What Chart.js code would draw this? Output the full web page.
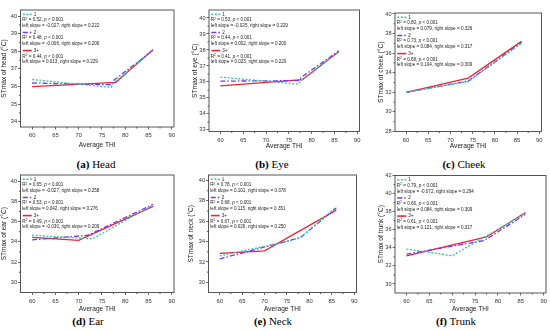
<!DOCTYPE html>
<html>
<head>
<meta charset="utf-8">
<script src="https://cdn.jsdelivr.net/npm/chart.js@4.4.1/dist/chart.umd.min.js"></script>
<style>
body { margin: 0; background: #fff; width: 550px; height: 331px; position: relative; overflow: hidden; }
canvas { position: absolute; }
.cap { position: absolute; width: 140px; margin-left: -70px; text-align: center; font: 11px "Liberation Serif", serif; color: #000; line-height: 12px; }
</style>
</head>
<body>
<div id="root"></div>
<script>
// shared values
const groups = ['1', '2', '3+'];
const thiTicks = [60, 65, 70, 75, 80, 85, 90];

// (a) head
const headG1 = [[60, 36.4], [77, 35.95], [77.5, 36.2], [86, 38.05]];
const headG2 = [[60, 36.2], [77, 36.1], [77.5, 36.35], [86, 38.05]];
const headG3 = [[60, 36.0], [78, 36.24], [86, 38.1]];
const headTicks = [34, 35, 36, 37, 38, 39, 40];
const headStats = [['0.52', '-0.027', '0.222'], ['0.48', '-0.006', '0.206'], ['0.44', '0.013', '0.229']];

// (b) eye
const eyeG1 = [[60, 36.3], [77, 35.87], [78, 36.15], [86, 37.9]];
const eyeG2 = [[60, 36.05], [77, 36.08], [77.8, 36.3], [86, 37.95]];
const eyeG3 = [[60, 35.75], [78, 36.15], [86, 37.9]];
const eyeTicks = [33, 34, 35, 36, 37, 38, 39, 40];
const eyeStats = [['0.53', '-0.025', '0.229'], ['0.44', '0.002', '0.200'], ['0.41', '0.023', '0.220']];

// (c) cheek
const cheekG1 = [[60, 32.0], [74, 33.1], [86, 37.0]];
const cheekG2 = [[60, 32.0], [74, 33.15], [86, 37.1]];
const cheekG3 = [[60, 32.0], [74, 33.45], [86, 37.2]];
const cheekTicks = [28, 30, 32, 34, 36, 38, 40];
const cheekStats = [['0.80', '0.079', '0.326'], ['0.73', '0.084', '0.317'], ['0.68', '0.104', '0.309']];

// (d) ear
const earG1 = [[60, 34.65], [73, 34.3], [86, 37.65]];
const earG2 = [[60, 34.2], [72, 34.65], [86, 37.7]];
const earG3 = [[60, 34.45], [70, 34.15], [86, 37.5]];
const earTicks = [30, 32, 34, 36, 38, 40];
const earStats = [['0.65', '-0.027', '0.258'], ['0.53', '0.042', '0.276'], ['0.49', '-0.030', '0.209']];

// (e) neck
const neckG1 = [[60, 32.6], [75, 34.0], [78, 34.4], [86, 37.4]];
const neckG2 = [[60, 32.3], [78, 34.4], [86, 37.3]];
const neckG3 = [[60, 32.85], [70, 33.1], [86, 37.1]];
const neckTicks = [30, 32, 34, 36, 38, 40];
const neckStats = [['0.78', '0.101', '0.378'], ['0.68', '0.115', '0.351'], ['0.67', '0.026', '0.250']];

// (f) trunk
const trunkG1 = [[60, 33.85], [70, 33.13], [86, 37.8]];
const trunkG2 = [[60, 33.3], [77, 34.8], [86, 37.7]];
const trunkG3 = [[60, 33.1], [77.5, 35.2], [86, 37.9]];
const trunkTicks = [30, 32, 34, 36, 38, 40, 42];
const trunkStats = [['0.79', '-0.072', '0.294'], ['0.66', '0.084', '0.309'], ['0.61', '0.121', '0.317']];

const panels = [
    { tag: '(a)', name: 'Head',  part: 'head',  g: [headG1, headG2, headG3],    yt: headTicks,  ymin: 33.7, ymax: 40.35, st: headStats },
    { tag: '(b)', name: 'Eye',   part: 'eye',   g: [eyeG1, eyeG2, eyeG3],       yt: eyeTicks,   ymin: 32.9, ymax: 40.5,  st: eyeStats },
    { tag: '(c)', name: 'Cheek', part: 'cheek', g: [cheekG1, cheekG2, cheekG3], yt: cheekTicks, ymin: 28,   ymax: 40.1,  st: cheekStats },
    { tag: '(d)', name: 'Ear',   part: 'ear',   g: [earG1, earG2, earG3],       yt: earTicks,   ymin: 29,   ymax: 40.6,  st: earStats },
    { tag: '(e)', name: 'Neck',  part: 'neck',  g: [neckG1, neckG2, neckG3],    yt: neckTicks,  ymin: 29,   ymax: 40.55, st: neckStats },
    { tag: '(f)', name: 'Trunk', part: 'trunk', g: [trunkG1, trunkG2, trunkG3], yt: trunkTicks, ymin: 29,   ymax: 42,    st: trunkStats }
];

// canvas box, chart area (page coords), title offsets, caption centre
const boxes = [
    { x0: 0,   y0: 0,   w: 180, h: 150, L: 20.5, R: 174,   T: 10,   B: 127,   yp: 0,   xp: 1, cx: 96,  cy: 164 },
    { x0: 190, y0: 0,   w: 175, h: 150, L: 209,  R: 359.5, T: 10,   B: 131.5, yp: 1.0, xp: 0, cx: 272, cy: 164 },
    { x0: 372, y0: 0,   w: 178, h: 150, L: 395,  R: 541.5, T: 13,   B: 131.5, yp: 5.0, xp: 0, cx: 464, cy: 164 },
    { x0: 0,   y0: 165, w: 180, h: 150, L: 20.5, R: 174,   T: 175,  B: 292.5, yp: 0.5, xp: 2, cx: 88,  cy: 321 },
    { x0: 185, y0: 165, w: 175, h: 150, L: 208.5,R: 356.5, T: 175,  B: 292.5, yp: 2.0, xp: 2, cx: 273, cy: 321 },
    { x0: 372, y0: 165, w: 178, h: 150, L: 395,  R: 546,   T: 175.5,B: 293,   yp: 5.0, xp: 2, cx: 456, cy: 321 }
];

const colors = ['#2fc8a6', '#7a36f2', '#ee2434'];
const dashes = [[2, 1.6], [5, 2, 1.5, 2], []];
const widths = [1.3, 1.3, 1.3];
const FAM = '"Liberation Sans", Arial, sans-serif';
const AXC = '#444';

// frame, minor ticks and the in-plot legend with stats
const decorPlugin = {
    id: 'decor',
    afterDraw(chart, args, opts) {
        const ctx = chart.ctx;
        const a = chart.chartArea;
        const sx = chart.scales.x, sy = chart.scales.y;
        const yt = opts.yt, st = opts.st;
        if (!yt || !st) return;
        ctx.save();
        ctx.strokeStyle = AXC;
        ctx.lineWidth = 0.9;
        ctx.strokeRect(a.left, a.top, a.right - a.left, a.bottom - a.top);
        // minor ticks
        ctx.beginPath();
        for (let i = 0; i < thiTicks.length - 1; i++) {
            let px = sx.getPixelForValue((thiTicks[i] + thiTicks[i + 1]) / 2);
            ctx.moveTo(px, a.bottom); ctx.lineTo(px, a.bottom + 1.5);
        }
        for (let i = 0; i < yt.length - 1; i++) {
            let py = sy.getPixelForValue((yt[i] + yt[i + 1]) / 2);
            ctx.moveTo(a.left, py); ctx.lineTo(a.left - 1.5, py);
        }
        ctx.stroke();

        // legend
        const fs = 4.6;
        const step = 5.75;
        let y = a.top + 4.3;
        const x = a.left + 1.8;
        ctx.textBaseline = 'middle';
        ctx.fillStyle = '#222';
        for (let k = 0; k < 3; k++) {
            ctx.strokeStyle = colors[k];
            ctx.lineWidth = k == 2 ? 1.6 : 1.4;
            ctx.setLineDash(dashes[k]);
            ctx.beginPath();
            ctx.moveTo(x + 0.5, y); ctx.lineTo(x + 9.5, y);
            ctx.stroke();
            ctx.setLineDash([]);
            ctx.font = fs + 'px ' + FAM;
            ctx.fillText(groups[k], x + 11.5, y);
            y += step;
            // R² = .., p < 0.001
            let cx = x;
            ctx.fillText('R', cx, y); cx += ctx.measureText('R').width;
            ctx.font = (fs * 0.7) + 'px ' + FAM;
            ctx.fillText('2', cx, y - 1.3); cx += ctx.measureText('2').width;
            ctx.font = fs + 'px ' + FAM;
            let t = ' = ' + st[k][0] + ', ';
            ctx.fillText(t, cx, y); cx += ctx.measureText(t).width;
            ctx.font = 'italic ' + fs + 'px ' + FAM;
            ctx.fillText('p', cx, y); cx += ctx.measureText('p').width;
            ctx.font = fs + 'px ' + FAM;
            ctx.fillText(' < 0.001', cx, y);
            y += step;
            ctx.fillText('left slope = ' + st[k][1] + ', right slope = ' + st[k][2], x, y);
            y += step + 0.9;
        }
        ctx.restore();
    }
};

const root = document.getElementById('root');

panels.forEach((p, i) => {
    const b = boxes[i];
    const cv = document.createElement('canvas');
    cv.width = b.w; cv.height = b.h;
    cv.style.left = b.x0 + 'px'; cv.style.top = b.y0 + 'px';
    cv.style.width = b.w + 'px'; cv.style.height = b.h + 'px';
    root.appendChild(cv);

    const cap = document.createElement('div');
    cap.className = 'cap';
    cap.style.left = b.cx + 'px';
    cap.style.top = (b.cy - 6) + 'px';
    cap.innerHTML = '<b>' + p.tag + '</b> ' + p.name;
    root.appendChild(cap);

    new Chart(cv, {
        type: 'line',
        data: {
            datasets: p.g.map((pts, k) => ({
                label: groups[k],
                data: pts.map(q => ({ x: q[0], y: q[1] })),
                borderColor: colors[k],
                borderDash: dashes[k],
                borderWidth: widths[k],
                pointRadius: 0,
                fill: false,
                tension: 0
            }))
        },
        options: {
            responsive: false,
            animation: false,
            devicePixelRatio: 1,
            layout: { padding: { top: b.T - b.y0, right: b.x0 + b.w - b.R, left: 0, bottom: 0 } },
            plugins: {
                legend: { display: false },
                tooltip: { enabled: false },
                decor: { yt: p.yt, st: p.st }
            },
            scales: {
                x: {
                    type: 'linear',
                    min: 57.5,
                    max: 90.5,
                    afterBuildTicks: s => { s.ticks = thiTicks.map(v => ({ value: v })); },
                    afterFit: s => { s.height = b.y0 + b.h - b.B; },
                    grid: { drawOnChartArea: false, drawTicks: true, tickLength: 2.5, color: AXC, lineWidth: 0.8 },
                    border: { display: false },
                    ticks: { font: { size: 5.8, family: FAM }, color: '#333', padding: 2.5, maxRotation: 0, autoSkip: false },
                    title: { display: true, text: 'Average THI', color: '#222', font: { size: 6.6, family: FAM }, padding: { top: 0, bottom: b.xp } }
                },
                y: {
                    type: 'linear',
                    min: p.ymin,
                    max: p.ymax,
                    afterBuildTicks: s => { s.ticks = p.yt.map(v => ({ value: v })); },
                    afterFit: s => { s.width = b.L - b.x0; },
                    grid: { drawOnChartArea: false, drawTicks: true, tickLength: 2.5, color: AXC, lineWidth: 0.8 },
                    border: { display: false },
                    ticks: { font: { size: 5.6, family: FAM }, color: '#333', padding: 1, autoSkip: false },
                    title: { display: true, text: 'STmax of ' + p.part + ' (\u00B0C)', color: '#222', font: { size: 6.6, family: FAM }, padding: { top: b.yp, bottom: 0 } }
                }
            }
        },
        plugins: [decorPlugin]
    });
});
</script>
</body>
</html>
